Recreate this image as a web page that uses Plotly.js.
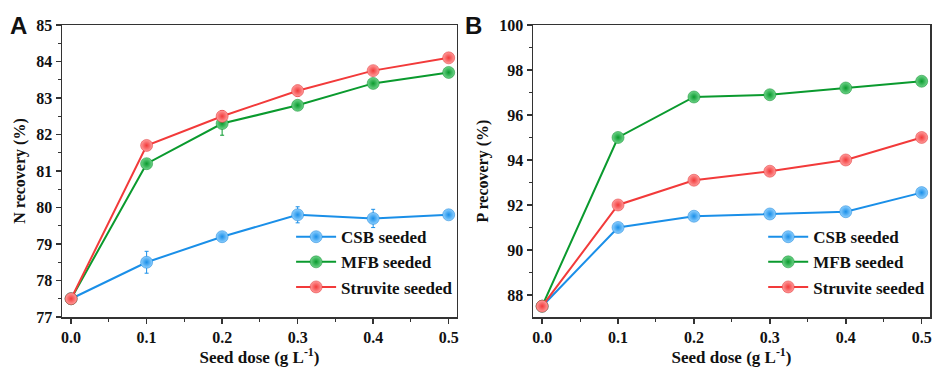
<!DOCTYPE html>
<html>
<head>
<meta charset="utf-8">
<script src="https://cdn.plot.ly/plotly-3.0.1.min.js"></script>
<style>
  html, body { margin: 0; padding: 0; background: #fff; }
  #chart { width: 933px; height: 367px; }
</style>
</head>
<body>
<div id="chart"></div>
<script>
// Seed dose (g L-1)
const doses = [0.0, 0.1, 0.2, 0.3, 0.4, 0.5];

// Panel A: N recovery (%)
const nCSB      = [77.5, 78.5, 79.2, 79.8, 79.7, 79.8];
const nCSBErr   = [0.0, 0.3, 0.08, 0.22, 0.25, 0.08];
const nMFB      = [77.5, 81.2, 82.3, 82.8, 83.4, 83.7];
const nMFBErr   = [0.0, 0.08, 0.32, 0.12, 0.1, 0.12];
const nStru     = [77.5, 81.7, 82.5, 83.2, 83.75, 84.1];
const nStruErr  = [0.0, 0.08, 0.15, 0.15, 0.08, 0.05];

// Panel B: P recovery (%)
const pCSB  = [87.5, 91.0, 91.5, 91.6, 91.7, 92.55];
const pMFB  = [87.5, 95.0, 96.8, 96.9, 97.2, 97.5];
const pStru = [87.5, 92.0, 93.1, 93.5, 94.0, 95.0];

const seriesNames = ['CSB seeded', 'MFB seeded', 'Struvite seeded'];
const colors = ['#1a8fe8', '#0a9a2e', '#f23a3a'];
const lights = ['#8fd0ff', '#6fd48a', '#ff9c9c'];
const edge = ['#1580d6', '#088a29', '#e03030'];

const serif = 'Liberation Serif, Times New Roman, serif';

function series(x, y, err, i, xa, ya, leg) {
  const t = {
    x: x, y: y, type: 'scatter', mode: 'lines+markers',
    name: seriesNames[i], xaxis: xa, yaxis: ya, legend: leg,
    line: { color: colors[i], width: 2 },
    marker: {
      color: lights[i], size: 12,
      gradient: { type: 'radial', color: colors[i] },
      line: { color: edge[i], width: 0.5 }
    },
    cliponaxis: false
  };
  if (err) {
    t.error_y = { type: 'data', array: err, visible: true, color: colors[i], thickness: 1, width: 2 };
  }
  return t;
}

const data = [
  series(doses, nCSB, nCSBErr, 0, 'x', 'y', 'legend'),
  series(doses, nMFB, nMFBErr, 1, 'x', 'y', 'legend'),
  series(doses, nStru, nStruErr, 2, 'x', 'y', 'legend'),
  series(doses, pCSB, null, 0, 'x2', 'y2', 'legend2'),
  series(doses, pMFB, null, 1, 'x2', 'y2', 'legend2'),
  series(doses, pStru, null, 2, 'x2', 'y2', 'legend2')
];

const tickFont = { family: serif, size: 16, color: '#111' };
const titleFont = { family: serif, size: 17, color: '#111', weight: 'bold' };

function xAxis(domain, anchor) {
  return {
    domain: domain, anchor: anchor, range: [-0.012, 0.511],
    tickvals: [0, 0.1, 0.2, 0.3, 0.4, 0.5],
    ticktext: ['<b>0.0</b>', '<b>0.1</b>', '<b>0.2</b>', '<b>0.3</b>', '<b>0.4</b>', '<b>0.5</b>'],
    ticks: 'outside', ticklen: 5, tickwidth: 1.5, tickcolor: '#333',
    minor: { dtick: 0.05, tick0: 0, ticks: 'outside', ticklen: 3, tickcolor: '#333', tickwidth: 1 },
    showline: true, linecolor: '#333', linewidth: 1.5, mirror: true,
    showgrid: false, zeroline: false, tickfont: tickFont, automargin: false,
    title: { text: '<b>Seed dose (g L<sup>-1</sup>)</b>', font: titleFont, standoff: 4 }
  };
}

function yAxis(domain, anchor, range, dtick, title) {
  const vals = [];
  for (let v = Math.ceil(range[0] / dtick) * dtick; v <= range[1] + 1e-9; v += dtick) vals.push(v);
  return {
    domain: domain, anchor: anchor, range: range,
    tickvals: vals, ticktext: vals.map(v => '<b>' + v + '</b>'),
    ticks: 'outside', ticklen: 5, tickwidth: 1.5, tickcolor: '#333',
    minor: { dtick: dtick / 2, tick0: 0, ticks: 'outside', ticklen: 3, tickcolor: '#333', tickwidth: 1 },
    showline: true, linecolor: '#333', linewidth: 1.5, mirror: true,
    showgrid: false, zeroline: false, tickfont: tickFont, automargin: false,
    title: { text: '<b>' + title + '</b>', font: { family: serif, size: 16, color: '#111', weight: 'bold' }, standoff: 6 }
  };
}

const legendBase = {
  bgcolor: 'rgba(0,0,0,0)', borderwidth: 0,
  font: { family: serif, size: 17, color: '#111', weight: 'bold' },
  xanchor: 'left', yanchor: 'top', tracegroupgap: 0, itemwidth: 40
};

const layout = {
  width: 933, height: 367,
  margin: { l: 0, r: 0, t: 25, b: 50 },
  paper_bgcolor: '#fff', plot_bgcolor: '#fff',
  showlegend: true,
  xaxis: xAxis([0.0665, 0.4898], 'y'),
  yaxis: yAxis([0, 1], 'x', [77, 85], 1, 'N recovery (%)'),
  xaxis2: xAxis([0.5713, 0.9968], 'y2'),
  yaxis2: yAxis([0, 1], 'x2', [87.02, 100], 2, 'P recovery (%)'),
  legend: Object.assign({ x: 0.312, y: 0.335 }, legendBase),
  legend2: Object.assign({ x: 0.818, y: 0.335 }, legendBase),
  annotations: [
    { text: '<b>A</b>', xref: 'paper', yref: 'paper', x: 0.009, y: 1.0, xanchor: 'left', yanchor: 'middle',
      showarrow: false, font: { family: 'Liberation Sans, Arial, sans-serif', size: 24, color: '#111' } },
    { text: '<b>B</b>', xref: 'paper', yref: 'paper', x: 0.496, y: 1.0, xanchor: 'left', yanchor: 'middle',
      showarrow: false, font: { family: 'Liberation Sans, Arial, sans-serif', size: 24, color: '#111' } }
  ]
};

Plotly.newPlot('chart', data, layout, { displayModeBar: false, staticPlot: true });
</script>
</body>
</html>
